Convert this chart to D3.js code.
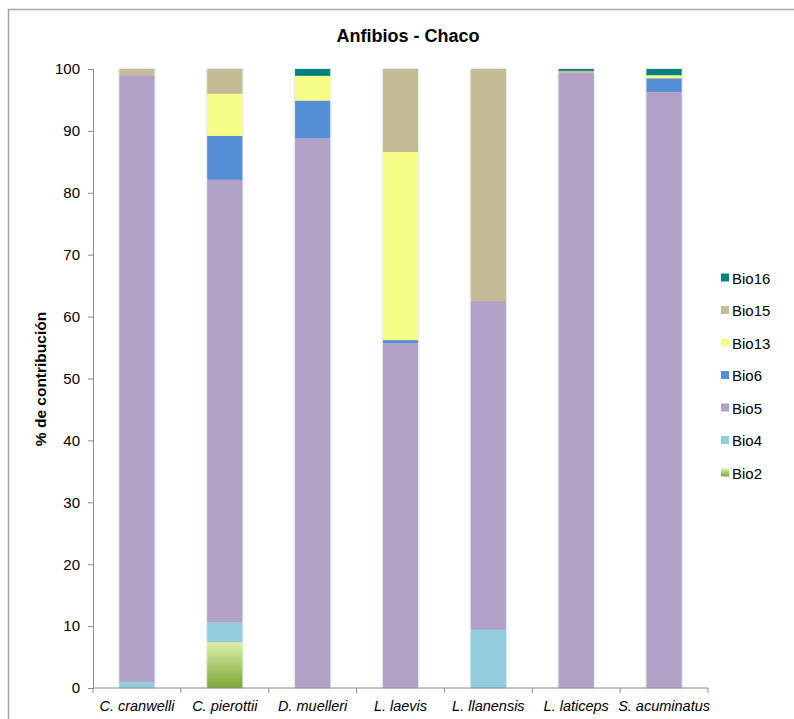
<!DOCTYPE html>
<html>
<head>
<meta charset="utf-8">
<script src="https://cdn.jsdelivr.net/npm/d3@7"></script>
<style>
  html, body { margin: 0; padding: 0; background: #fff; }
  svg { display: block; }
  text { font-family: "Liberation Sans", Arial, sans-serif; }
</style>
</head>
<body>
<svg id="chart" width="794" height="719"></svg>
<script>
// Species along the x axis
const species = ["C. cranwelli", "C. pierottii", "D. muelleri", "L. laevis", "L. llanensis", "L. laticeps", "S. acuminatus"];

// Bioclimatic variables, bottom of the stack first
const variables = ["Bio2", "Bio4", "Bio5", "Bio6", "Bio13", "Bio15", "Bio16"];

// % contribution of each variable per species
const bio2  = [0,    7.4,  0,    0,    0,    0,    0];
const bio4  = [1.0,  3.2,  0,    0,    9.4,  0,    0];
const bio5  = [98.0, 71.5, 88.8, 55.7, 53.1, 99.4, 96.3];
const bio6  = [0,    7.1,  6.1,  0.5,  0,    0,    2.2];
const bio13 = [0,    6.8,  4.0,  30.4, 0,    0,    0.5];
const bio15 = [1.0,  4.0,  0,    13.4, 37.5, 0.3,  0];
const bio16 = [0,    0,    1.1,  0,    0,    0.3,  1.0];

const yTicks = [0, 10, 20, 30, 40, 50, 60, 70, 80, 90, 100];

const colors = {
  Bio2: "url(#bio2Grad)",
  Bio4: "#93cddd",
  Bio5: "#b2a1c7",
  Bio6: "#558ed5",
  Bio13: "#f6fe88",
  Bio15: "#c4bc97",
  Bio16: "#008280"
};

const seriesValues = { Bio2: bio2, Bio4: bio4, Bio5: bio5, Bio6: bio6, Bio13: bio13, Bio15: bio15, Bio16: bio16 };

const rows = species.map((s, i) => {
  const r = { species: s };
  variables.forEach(v => { r[v] = seriesValues[v][i]; });
  return r;
});

const svg = d3.select("#chart");
const margin = { left: 93, right: 86, top: 69, bottom: 31 };
const W = 794, H = 719;

const defs = svg.append("defs");
const grad = defs.append("linearGradient")
  .attr("id", "bio2Grad").attr("x1", 0).attr("y1", 0).attr("x2", 0).attr("y2", 1);
grad.append("stop").attr("offset", "0%").attr("stop-color", "#dcf0a8");
grad.append("stop").attr("offset", "100%").attr("stop-color", "#7ea638");

const shadow = defs.append("filter").attr("id", "barShadow")
  .attr("x", "-20%").attr("y", "-5%").attr("width", "140%").attr("height", "110%");
shadow.append("feDropShadow").attr("dx", 0).attr("dy", 0).attr("stdDeviation", 1.2)
  .attr("flood-color", "#000").attr("flood-opacity", 0.28);

// Outer chart frame
svg.append("rect")
  .attr("x", 8.5).attr("y", 9.5).attr("width", W + 20).attr("height", H + 20)
  .attr("fill", "none").attr("stroke", "#a6a6a6").attr("stroke-width", 1.5);

const x = d3.scaleBand().domain(species).range([margin.left, W - margin.right]).paddingInner(0.6).paddingOuter(0.3);
const y = d3.scaleLinear().domain([0, 100]).range([H - margin.bottom, margin.top]);

const stacked = d3.stack().keys(variables)(rows);

const barG = svg.append("g").attr("filter", "url(#barShadow)");
barG.selectAll("g.layer")
  .data(stacked)
  .join("g")
  .attr("class", "layer")
  .attr("fill", d => colors[d.key])
  .selectAll("rect")
  .data(d => d.filter(p => p[1] - p[0] > 0))
  .join("rect")
  .attr("x", d => x(d.data.species))
  .attr("width", x.bandwidth())
  .attr("y", d => y(d[1]))
  .attr("height", d => y(d[0]) - y(d[1]));

// Y axis
const yAxis = svg.append("g")
  .attr("transform", `translate(${margin.left},0)`)
  .call(d3.axisLeft(y).tickValues(yTicks).tickSize(5).tickPadding(8));
yAxis.select(".domain").attr("stroke", "#8c8c8c");
yAxis.selectAll(".tick line").attr("stroke", "#8c8c8c");
yAxis.selectAll(".tick text")
  .attr("font-size", 15).attr("fill", "#000")
  .style("font-family", "'Liberation Sans', Arial, sans-serif");

// X axis: ticks mark the boundaries between categories
const step = x.step();
const bounds = d3.range(species.length + 1).map(i => margin.left + i * (W - margin.right - margin.left) / species.length);
const xG = svg.append("g");
xG.append("line")
  .attr("x1", margin.left).attr("x2", W - margin.right)
  .attr("y1", y(0)).attr("y2", y(0))
  .attr("stroke", "#8c8c8c");
xG.selectAll("line.tk").data(bounds).join("line")
  .attr("class", "tk")
  .attr("x1", d => d).attr("x2", d => d)
  .attr("y1", y(0)).attr("y2", y(0) + 5)
  .attr("stroke", "#8c8c8c");
xG.selectAll("text").data(species).join("text")
  .attr("x", d => x(d) + x.bandwidth() / 2)
  .attr("y", 711)
  .attr("text-anchor", "middle")
  .attr("font-size", 14.5)
  .attr("font-style", "italic")
  .text(d => d);

// Title
svg.append("text")
  .attr("x", 408).attr("y", 42)
  .attr("text-anchor", "middle")
  .attr("font-size", 18).attr("font-weight", "bold")
  .text("Anfibios - Chaco");

// Y axis title
svg.append("text")
  .attr("transform", "translate(46,379) rotate(-90)")
  .attr("text-anchor", "middle")
  .attr("font-size", 15.5).attr("font-weight", "bold")
  .text("% de contribución");

// Legend, top entry is the top of the stack
const legendOrder = variables.slice().reverse();
const lg = svg.append("g").selectAll("g").data(legendOrder).join("g")
  .attr("transform", (d, i) => `translate(721,${278 + i * 32.5})`);
lg.append("rect")
  .attr("x", 0).attr("y", -4.5).attr("width", 8).attr("height", 8)
  .attr("fill", d => colors[d]);
lg.append("text")
  .attr("x", 11).attr("y", 5.5)
  .attr("font-size", 15)
  .text(d => d);
</script>
</body>
</html>
